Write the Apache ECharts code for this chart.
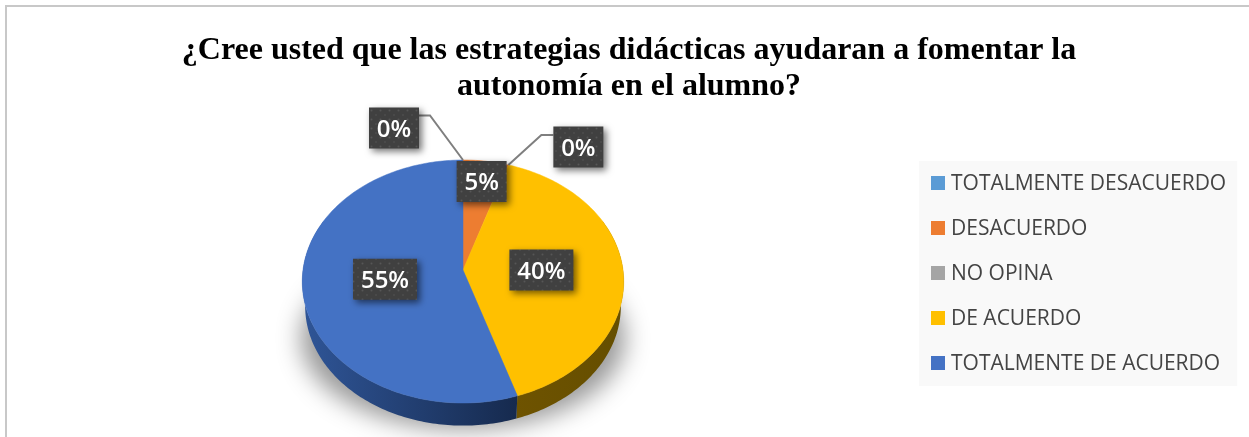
<!DOCTYPE html>
<html><head><meta charset="utf-8">
<style>html,body{margin:0;padding:0;background:#fff}#c{width:1249px;height:437px}</style>
<script src="https://cdn.jsdelivr.net/npm/echarts@6/dist/echarts.min.js"></script>
</head><body><div id="c"></div>
<script>
const categories = ['TOTALMENTE DESACUERDO','DESACUERDO','NO OPINA','DE ACUERDO','TOTALMENTE DE ACUERDO'];
const percentages = [0,5,0,40,55];
const palette = ['#5b9bd5','#ed7d31','#a5a5a5','#ffc000','#4472c4'];
const sideStops = {3:['#6e5300','#654e00'],4:['#2f5597','#162a4e'],1:['#8f4b1d','#8f4b1d'],0:['#375d80','#375d80'],2:['#636363','#636363']};
const titleText = '¿Cree usted que las estrategias didácticas ayudaran a fomentar la\nautonomía en el alumno?';

// projection of the tilted disc
const CX=463, CY=270, R=160, RY=120.4, K=0.0947, DEPTH=25, SHRINK=0.982;
function project(deg, r, cy, s){
  const a=deg*Math.PI/180, u=Math.sin(a)*r, v=-Math.cos(a)*r, w=1-K*v;
  return [CX+R*s*u/w, cy+RY*s*v/w];
}
function arc(from,to,r,cy,s){
  const pts=[], n=Math.max(2,Math.ceil(Math.abs(to-from)));
  for(let i=0;i<=n;i++) pts.push(project(from+(to-from)*i/n,r,cy,s));
  return pts;
}
const starts=[]; percentages.reduce((acc,p,i)=>{starts[i]=acc;return acc+p;},0);

// leader-line callouts for the empty slices: box offset from the rim
const callouts={0:{dx:-69,dy:-32,elbowX:-33,elbowY:-44.5,side:-1},2:{dx:70,dy:-18,elbowX:33,elbowY:-30,side:1}};
const BOX_H=41;

const tile=document.createElement('canvas'); tile.width=9; tile.height=9;
(function(){const g=tile.getContext('2d');g.fillStyle='#404040';g.fillRect(0,0,9,9);
 g.fillStyle='#565656';g.beginPath();g.arc(2.5,2.5,1,0,7);g.fill();g.beginPath();g.arc(7,7,0.8,0,7);g.fill();})();

function renderSlice(idx){
  return function(params,api){
    const value=api.value(0), color=palette[idx], start=starts[idx]*3.6, end=start+value*3.6;
    const children=[];
    if(value>0){
      const a=Math.max(start,65), b=Math.min(end,295);
      if(b>a){
        const top=arc(a,b,1,CY,1), low=arc(b,a,1,CY+DEPTH,SHRINK);
        children.push({type:'polygon',z2:2,shape:{points:top.concat(low)},
          style:{fill:{type:'linear',x:0,y:0,x2:1,y2:0,colorStops:[{offset:0,color:sideStops[idx][0]},{offset:1,color:sideStops[idx][1]}]}}});
      }
      children.push({type:'polygon',z2:5,shape:{points:[[CX,CY]].concat(arc(start,end,1,CY,1))},
        style:{fill:color,stroke:color,lineWidth:0.5}});
    }
    const mid=(start+end)/2;
    let c, w=value>=10?64:50;
    if(value===0){
      const o=callouts[idx], rim=project(mid,1,CY,1);
      c=[rim[0]+o.dx,rim[1]+o.dy];
      children.push({type:'polyline',z2:8,shape:{points:[rim,[rim[0]+o.elbowX,rim[1]+o.elbowY],[c[0]-o.side*w/2,rim[1]+o.elbowY]]},
        style:{fill:null,stroke:'#7f7f7f',lineWidth:2}});
    } else {
      c=project(mid,value>=10?0.49:0.8,CY,1);
    }
    children.push({type:'rect',z2:10,shape:{x:c[0]-w/2,y:c[1]-BOX_H/2,width:w,height:BOX_H},
      style:{fill:{image:tile,repeat:'repeat'},shadowBlur:7,shadowOffsetX:3,shadowOffsetY:3,shadowColor:'rgba(0,0,0,0.55)'}});
    children.push({type:'text',z2:11,style:{x:c[0],y:c[1]+2,text:value+'%',fill:'#fff',align:'center',verticalAlign:'middle',
      font:'600 24px "Open Sans"'}});
    return {type:'group',children};
  };
}

const chart=echarts.init(document.getElementById('c'),null,{renderer:'canvas'});
chart.setOption({
  animation:false,
  color:palette,
  title:{text:titleText,left:624,top:28,textAlign:'center',
    textStyle:{fontFamily:'"Liberation Serif"',fontWeight:'bold',fontSize:32,lineHeight:36,color:'#000'}},
  legend:{orient:'vertical',left:919,top:161,padding:[10,11,11,12],backgroundColor:'#f9f9f9',
    itemWidth:14,itemHeight:14,itemGap:21,icon:'rect',data:categories,
    formatter:'{a|{name}}',
    textStyle:{fontFamily:'"Open Sans"',fontSize:21,color:'#444',padding:[0,0,0,1],
      rich:{a:{fontFamily:'"Open Sans"',fontSize:21,color:'#444',height:22,lineHeight:22,padding:[2,0,0,0]}}}},
  graphic:[
    {type:'polyline',silent:true,z:-5,shape:{points:[[6,437],[6,6],[1249,6]]},style:{fill:null,stroke:'#c8c8c8',lineWidth:2}},
    // soft floor shadow: the shape sits off-canvas so that only its blurred shadow lands under the pie
    {type:'ellipse',silent:true,z:-1,shape:{cx:463-2000,cy:338,rx:162,ry:91},
      style:{fill:'#000',shadowBlur:24,shadowOffsetX:2000,shadowColor:'#999999'}}
  ],
  series:categories.map((name,i)=>({
    type:'custom',name,coordinateSystem:'none',data:[[percentages[i]]],renderItem:renderSlice(i),silent:true,clip:false
  }))
});
</script></body></html>
